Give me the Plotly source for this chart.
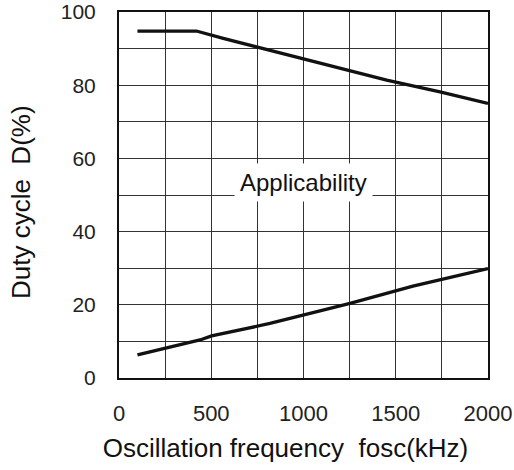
import plotly.graph_objects as go

# Upper limit curve
upper_f = [100, 420, 565, 818, 1000, 1198, 1451, 1740, 2000]
upper_d = [94.8, 94.8, 92.8, 89.6, 87.3, 84.6, 81.4, 78.2, 75.0]

# Lower limit curve
lower_f = [100, 439, 502, 818, 1252, 1593, 2000]
lower_d = [6.3, 10.4, 11.5, 14.9, 20.4, 25.1, 29.9]

x_ticks = [0, 500, 1000, 1500, 2000]
y_ticks = [0, 20, 40, 60, 80, 100]

FONT = "Liberation Sans, Arial, sans-serif"

fig = go.Figure()
for xs, ys in [(upper_f, upper_d), (lower_f, lower_d)]:
    fig.add_trace(go.Scatter(x=xs, y=ys, mode="lines",
                             line=dict(color="#111111", width=3.3),
                             showlegend=False, hoverinfo="skip"))

fig.add_annotation(x=1000, y=53.3, text="Applicability", showarrow=False,
                   font=dict(family=FONT, size=24, color="#111111"),
                   bgcolor="white", borderpad=5)

axis_common = dict(showline=True, linecolor="#111111", linewidth=2, mirror=True,
                   gridcolor="#333333", gridwidth=1, zeroline=False, automargin=False,
                   ticks="")

fig.update_xaxes(range=[0, 2000], tickvals=x_ticks, ticklabelstandoff=15,
                 tickfont=dict(family=FONT, size=22, color="#222222"),
                 minor=dict(dtick=250, showgrid=True, gridcolor="#333333", gridwidth=1),
                 title=dict(text="Oscillation frequency  fosc(kHz)" + "&nbsp;" * 5,
                            font=dict(family=FONT, size=26, color="#111111"), standoff=13),
                 **axis_common)
fig.update_yaxes(range=[0, 100], tickvals=y_ticks, ticklabelstandoff=17,
                 tickfont=dict(family=FONT, size=21, color="#222222"),
                 minor=dict(dtick=10, showgrid=True, gridcolor="#333333", gridwidth=1),
                 title=dict(text="Duty cycle  D(%)" + "&nbsp;" * 2,
                            font=dict(family=FONT, size=26, color="#111111"), standoff=23),
                 **axis_common)

fig.update_layout(width=514, height=470, margin=dict(l=119, r=26, t=12, b=92),
                  plot_bgcolor="white", paper_bgcolor="white")

fig.write_html("out.html", config={"displayModeBar": False},
               post_script="document.body.style.margin='0';document.body.style.padding='0';")
